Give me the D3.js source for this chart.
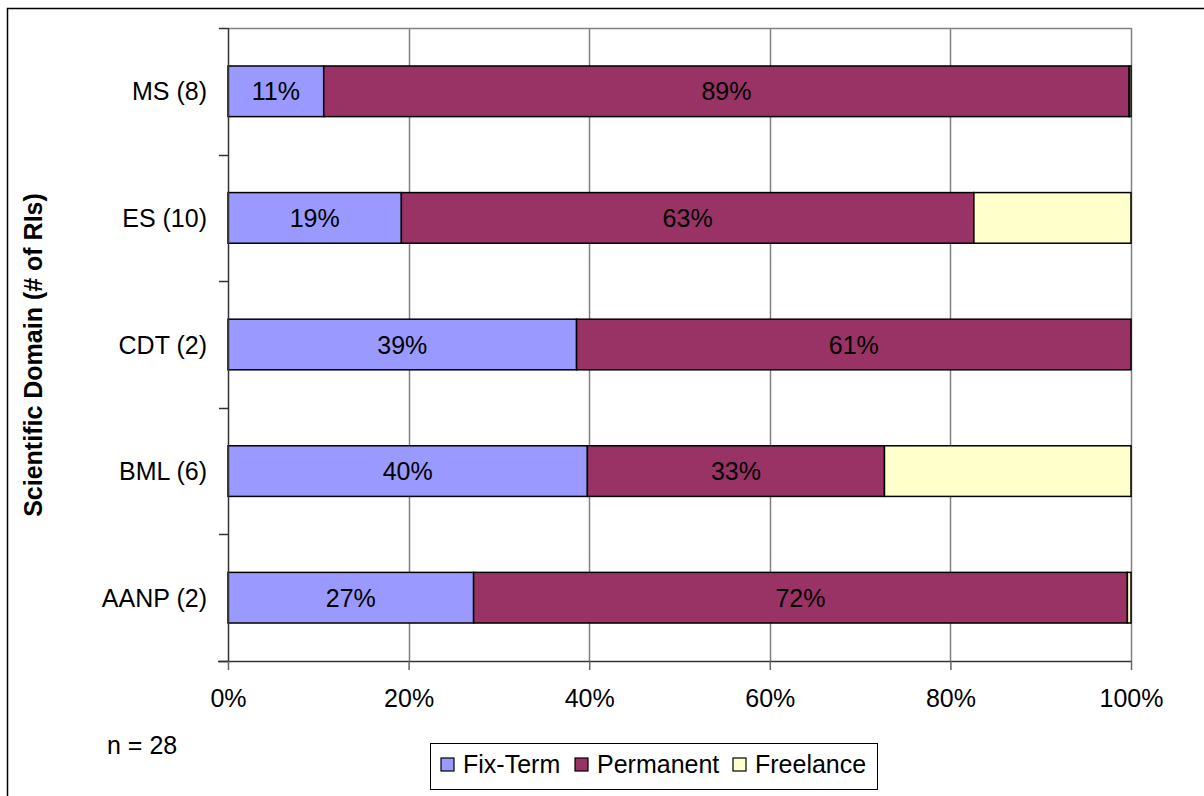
<!DOCTYPE html>
<html>
<head>
<meta charset="utf-8">
<script src="https://cdn.jsdelivr.net/npm/d3@7"></script>
<style>
  body { margin: 0; background: #fff; }
  svg { display: block; font-family: "Liberation Sans", Arial, sans-serif; }
</style>
</head>
<body>
<svg id="chart" width="1204" height="796"></svg>
<script>
// Share of staff contract types per scientific domain (percent)
const domains   = ["MS (8)", "ES (10)", "CDT (2)", "BML (6)", "AANP (2)"];
const fixTerm   = [10.6, 19.2, 38.6, 39.8, 27.2];
const permanent = [89.2, 63.4, 61.4, 32.9, 72.4];
const freelance = [0.2, 17.4, 0.0, 27.3, 0.4];
const seriesNames  = ["Fix-Term", "Permanent", "Freelance"];
const seriesColors = ["#9999FF", "#993366", "#FFFFCC"];
const labelled     = [true, true, false];
const xTicks = [0, 20, 40, 60, 80, 100];

const FS = 25;

const rows = domains.map((d, i) => ({
  domain: d,
  "Fix-Term": fixTerm[i],
  "Permanent": permanent[i],
  "Freelance": freelance[i]
}));
const stacked = d3.stack().keys(seriesNames)(rows);

const svg = d3.select("#chart");
const W = 1204, H = 796;
const m = { left: 228, right: 1131, top: 28, bottom: 661 };

// outer frame
svg.append("rect").attr("x", 7.5).attr("y", 8.5)
  .attr("width", W + 10).attr("height", H + 10)
  .attr("fill", "none").attr("stroke", "#000").attr("stroke-width", 1.5);

const x = d3.scaleLinear().domain([0, 100]).range([m.left, m.right]);
const y = d3.scaleBand().domain(domains).range([m.top, m.bottom]).paddingInner(0.6).paddingOuter(0.3);
const yEdges = d3.scaleLinear().domain([0, domains.length]).range([m.top, m.bottom]);

// plot area frame and vertical gridlines
svg.append("g").selectAll("line").data(xTicks.slice(1)).join("line")
  .attr("x1", d => Math.round(x(d)) + 0.5).attr("x2", d => Math.round(x(d)) + 0.5)
  .attr("y1", m.top).attr("y2", m.bottom)
  .attr("stroke", "#808080").attr("stroke-width", 1.5);
svg.append("line").attr("x1", m.left).attr("x2", m.right)
  .attr("y1", m.top + 0.5).attr("y2", m.top + 0.5)
  .attr("stroke", "#808080").attr("stroke-width", 1.5);

// bars
const layer = svg.append("g").selectAll("g").data(stacked).join("g")
  .attr("fill", (d, i) => seriesColors[i]);
layer.selectAll("rect").data(d => d.filter(s => s[1] - s[0] > 0)).join("rect")
  .attr("x", d => x(d[0]))
  .attr("y", d => y(d.data.domain))
  .attr("width", d => x(d[1]) - x(d[0]))
  .attr("height", y.bandwidth())
  .attr("stroke", "#000").attr("stroke-width", 1.5);

// value labels
stacked.forEach((s, i) => {
  if (!labelled[i]) return;
  svg.append("g").selectAll("text").data(s).join("text")
    .attr("x", d => (x(d[0]) + x(d[1])) / 2)
    .attr("y", d => y(d.data.domain) + y.bandwidth() / 2)
    .attr("text-anchor", "middle").attr("dominant-baseline", "central")
    .attr("font-size", FS).attr("fill", "#000")
    .text(d => Math.round(d[1] - d[0]) + "%");
});

// x axis
const xAxis = svg.append("g").attr("transform", `translate(0,${m.bottom})`)
  .call(d3.axisBottom(x).tickValues(xTicks).tickFormat(d => d + "%").tickSize(9).tickPadding(19));
xAxis.select(".domain").attr("stroke", "#333").attr("stroke-width", 1.5).attr("d", `M${m.left - 10},0.5H${m.right}`);
xAxis.selectAll(".tick line").attr("stroke", "#666").attr("stroke-width", 1.5);
xAxis.selectAll("text").attr("font-size", FS).attr("fill", "#000").attr("font-family", "Liberation Sans, Arial, sans-serif");

// y axis
svg.append("line").attr("x1", m.left + 0.5).attr("x2", m.left + 0.5)
  .attr("y1", m.top).attr("y2", m.bottom).attr("stroke", "#333").attr("stroke-width", 1.5);
svg.append("g").selectAll("line").data(d3.range(domains.length + 1)).join("line")
  .attr("x1", m.left - 9).attr("x2", m.left)
  .attr("y1", d => Math.round(yEdges(d)) + 0.5).attr("y2", d => Math.round(yEdges(d)) + 0.5)
  .attr("stroke", "#333").attr("stroke-width", 1.5);
svg.append("g").selectAll("text").data(domains).join("text")
  .attr("x", m.left - 21)
  .attr("y", d => y(d) + y.bandwidth() / 2)
  .attr("text-anchor", "end").attr("dominant-baseline", "central")
  .attr("font-size", FS).attr("fill", "#000")
  .text(d => d);

// y axis title
svg.append("text")
  .attr("transform", `translate(42,355) rotate(-90)`)
  .attr("text-anchor", "middle").attr("font-size", FS).attr("font-weight", "bold")
  .text("Scientific Domain (# of RIs)");

// sample size note
svg.append("text").attr("x", 107).attr("y", 754).attr("font-size", FS).text("n = 28");

// legend
const lg = svg.append("g");
lg.append("rect").attr("x", 430.5).attr("y", 743.5).attr("width", 447).attr("height", 46)
  .attr("fill", "#fff").attr("stroke", "#000").attr("stroke-width", 1);
const legendX = [441, 575, 733];
seriesNames.forEach((n, i) => {
  lg.append("rect").attr("x", legendX[i]).attr("y", 758).attr("width", 13).attr("height", 13)
    .attr("fill", seriesColors[i]).attr("stroke", "#000").attr("stroke-width", 1.2);
  lg.append("text").attr("x", legendX[i] + 22).attr("y", 773).attr("font-size", FS).text(n);
});
</script>
</body>
</html>
